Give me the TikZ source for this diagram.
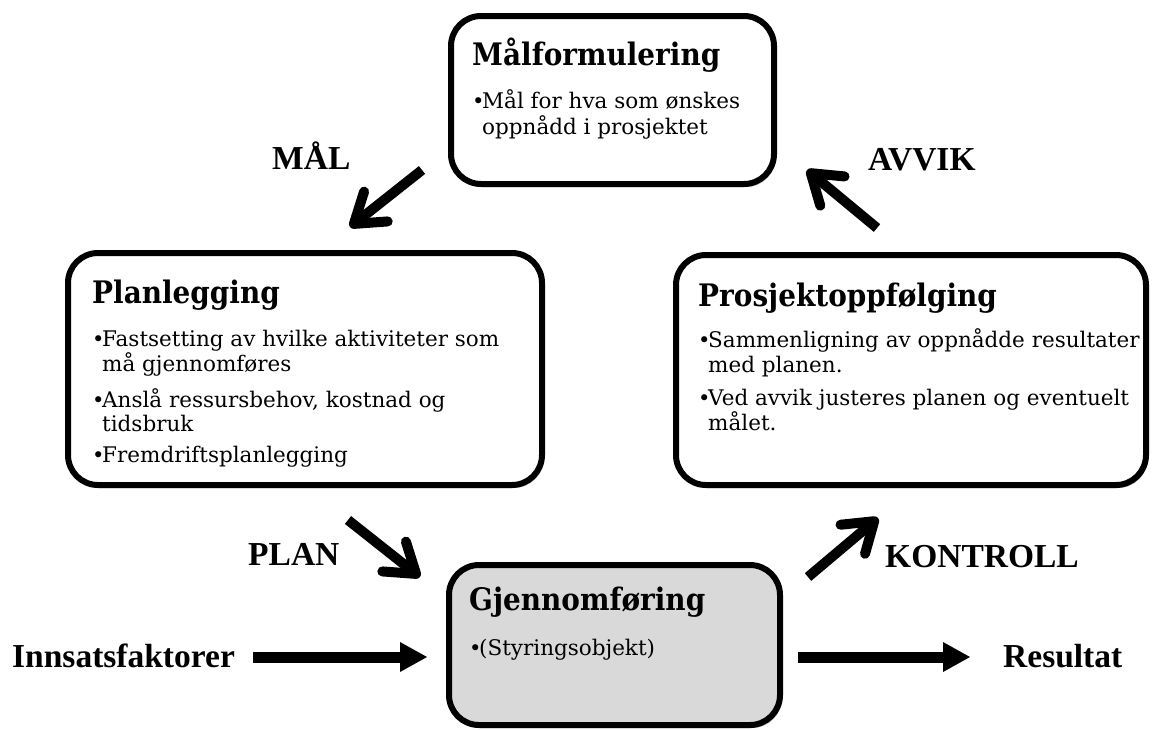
\documentclass[tikz,border=0pt]{standalone}
\usepackage{fontspec}
\setmainfont{Liberation Serif}
\newfontfamily\boxfont[FakeStretch=0.9]{DejaVu Serif}
\newfontfamily\bodyfont{DejaVu Serif}
\usetikzlibrary{arrows.meta,shadows}
\definecolor{boxgray}{RGB}{217,217,217}
\newcommand\blt{\makebox[10pt][l]{\fontsize{21}{21}\selectfont\raisebox{-0.5pt}{•}}}
\tikzset{
  box/.style={draw=black, line width=6pt, rounded corners=30pt, fill=white, inner sep=0pt,
    drop shadow={shadow xshift=2pt, shadow yshift=-3pt, opacity=0.3, fill=black}},
  ttl/.style={anchor=base west, inner sep=0pt, font=\boxfont\bfseries\fontsize{31}{31}\selectfont},
  txt/.style={anchor=base west, inner sep=0pt, font=\bodyfont\fontsize{21.5}{21.5}\selectfont},
  lbl/.style={inner sep=0pt, font=\bfseries\fontsize{33.5}{33.5}\selectfont},
  cyc/.style={line width=10pt, -{Straight Barb[length=28pt,width=38pt,round]}},
  harrow/.style={line width=11pt, -{Triangle[length=27pt,width=30pt,line width=0pt]}},
}
\begin{document}
\begin{tikzpicture}[x=1pt,y=-1pt]
\useasboundingbox (0,0) rectangle (1154,729);
\fill[white] (0,0) rectangle (1154,729);

% boxes
\node[box, minimum width=323pt, minimum height=168pt] (mal) at (612.5,100) {};
\node[box, minimum width=474pt, minimum height=232pt] (plan) at (305,369) {};
\node[box, minimum width=470pt, minimum height=230pt] (prosj) at (911,370) {};
\node[box, fill=boxgray, minimum width=331pt, minimum height=160pt] (gjen) at (614.5,645) {};

% Målformulering
\node[ttl] (malT) at (472,65) {Målformulering};
\node[txt] (mal1) at (472,108) {\blt Mål for hva som ønskes};
\node[txt] (mal2) at (482,134) {oppnådd i prosjektet};

% Planlegging
\node[ttl] (planT) at (92,303) {Planlegging};
\node[txt] (plan1) at (92,346) {\blt Fastsetting av hvilke aktiviteter som};
\node[txt] (plan2) at (102,371) {må gjennomføres};
\node[txt] (plan3) at (92,407) {\blt Anslå ressursbehov, kostnad og};
\node[txt] (plan4) at (102,431) {tidsbruk};
\node[txt] (plan5) at (92,462) {\blt Fremdriftsplanlegging};

% Prosjektoppfølging
\node[ttl] (prosjT) at (698,306) {Prosjektoppfølging};
\node[txt] (prosj1) at (698,347) {\blt Sammenligning av oppnådde resultater};
\node[txt] (prosj2) at (708,372) {med planen.};
\node[txt] (prosj3) at (698,405) {\blt Ved avvik justeres planen og eventuelt};
\node[txt] (prosj4) at (708,430) {målet.};

% Gjennomføring
\node[ttl] (gjenT) at (469,610) {Gjennomføring};
\node[txt] (gjen1) at (469,655) {\blt(Styringsobjekt)};

% labels
\node[lbl, anchor=base west] (lmal) at (272,169) {MÅL};
\node[lbl, anchor=base west] (lavvik) at (868,170) {AVVIK};
\node[lbl, anchor=base west] (lplan) at (248,565) {PLAN};
\node[lbl, anchor=base west] (lkontroll) at (885,567) {KONTROLL};
\node[lbl, anchor=base west] (innsats) at (12,667) {Innsatsfaktorer};
\node[lbl, anchor=base west] (resultat) at (1003,667) {Resultat};

% cycle arrows
\coordinate (malA) at (422,170);  \coordinate (malB) at (350,227);
\coordinate (avA) at (877,228);   \coordinate (avB) at (807,170);
\coordinate (plA) at (348,520);   \coordinate (plB) at (420,577);
\coordinate (koA) at (808,577);   \coordinate (koB) at (878,518);
\draw[cyc] (malA) -- (malB);
\draw[cyc] (avA) -- (avB);
\draw[cyc] (plA) -- (plB);
\draw[cyc] (koA) -- (koB);

% horizontal arrows
\draw[harrow, shorten <=18pt, shorten >=19pt] (innsats.east |- 0,657) -- (gjen.west |- 0,657);
\draw[harrow, shorten <=15pt, shorten >=33pt] (gjen.east |- 0,657) -- (resultat.west |- 0,657);
\end{tikzpicture}
\end{document}
